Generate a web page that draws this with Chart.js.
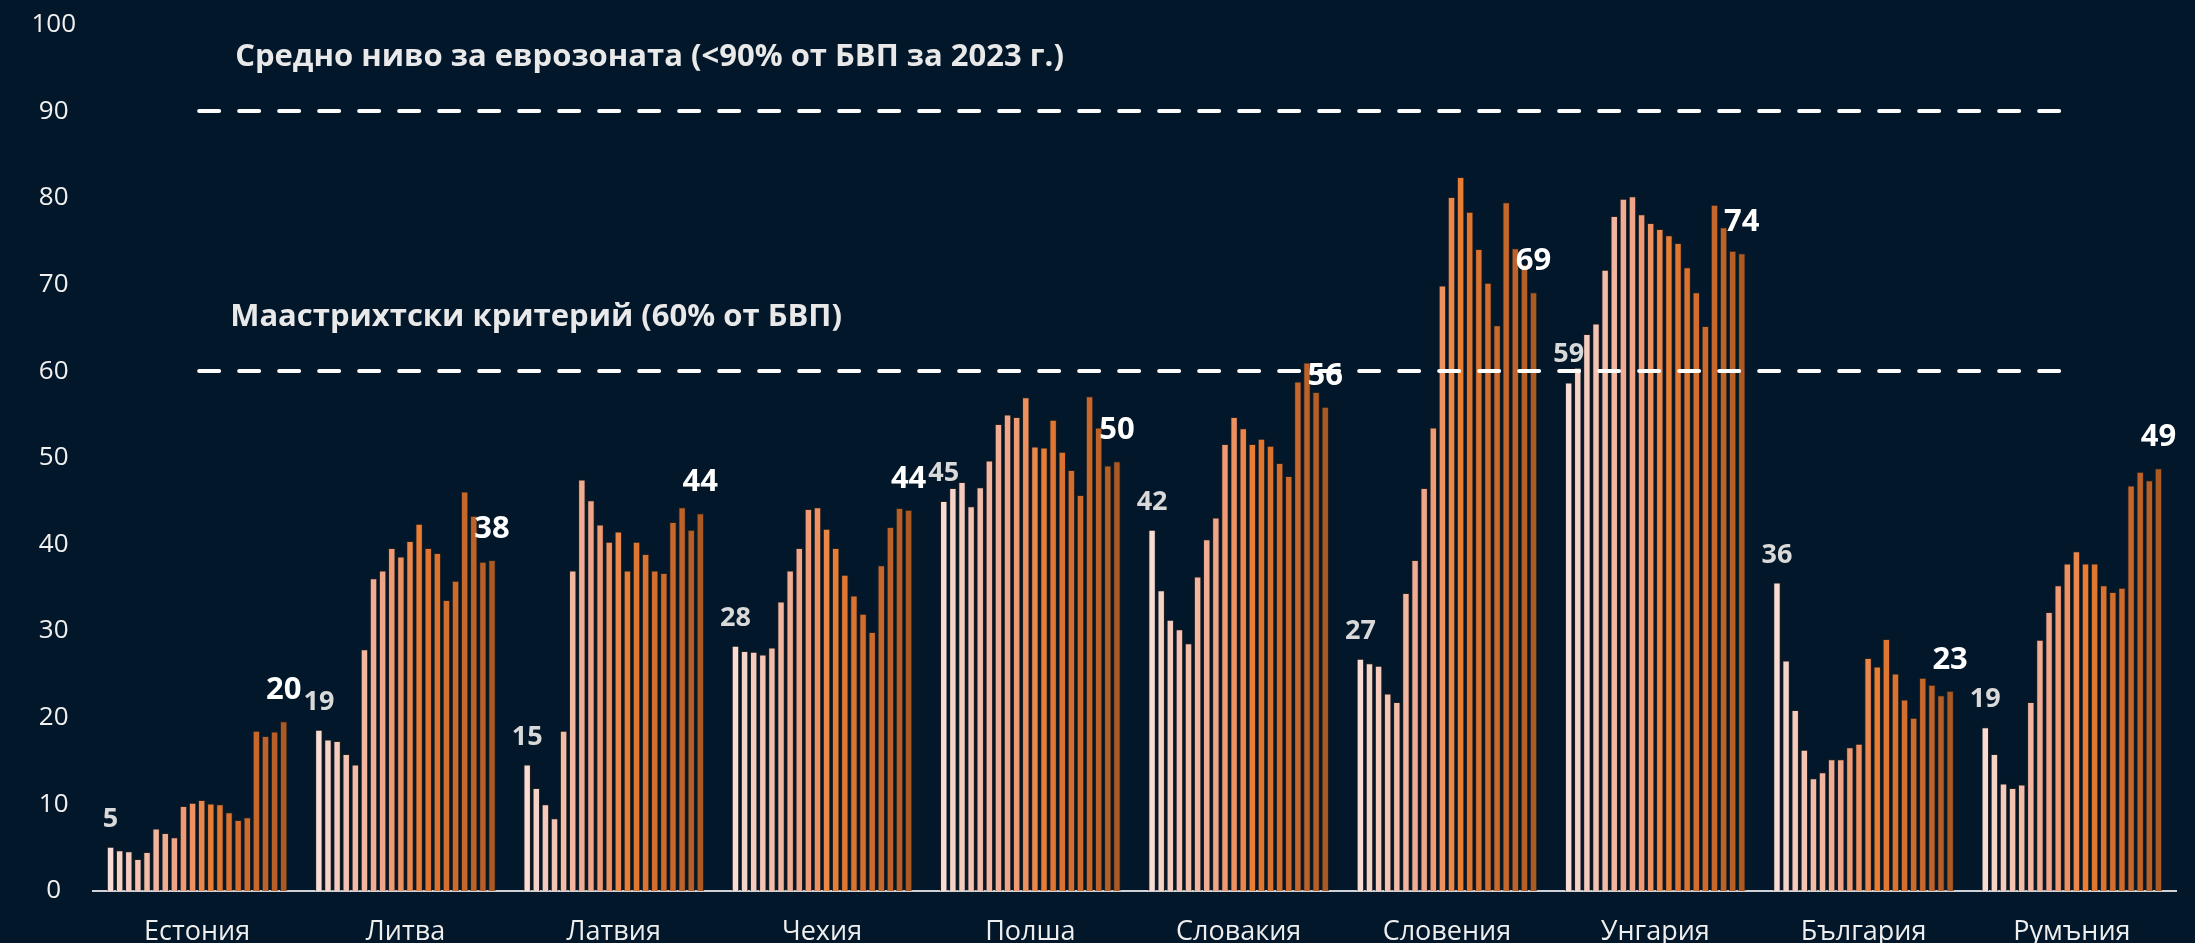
<!DOCTYPE html>
<html lang="bg">
<head>
<meta charset="utf-8">
<title>Държавен дълг</title>
<script src="https://cdn.jsdelivr.net/npm/chart.js@4.4.1/dist/chart.umd.min.js"></script>
<style>
    html, body { margin: 0; padding: 0; background: #021729; }
    #debt-container { width: 2195px; height: 943px; }
    #debt-chart { display: block; }
</style>
</head>
<body>
<div id="debt-container">
    <canvas id="debt-chart" width="2195" height="943"></canvas>
</div>
<script>
(function () {

    "use strict";

    // categories
    var countries = ['Естония', 'Литва', 'Латвия', 'Чехия', 'Полша', 'Словакия', 'Словения', 'Унгария', 'България', 'Румъния'];
    var years = ['2004', '2005', '2006', '2007', '2008', '2009', '2010', '2011', '2012', '2013',
                 '2014', '2015', '2016', '2017', '2018', '2019', '2020', '2021', '2022', '2023'];

    // debt, % of GDP, 2004..2023 per country
    var estonia   = [5.1, 4.7, 4.6, 3.7, 4.5, 7.2, 6.7, 6.2, 9.8, 10.2, 10.5, 10.1, 10.0, 9.1, 8.2, 8.5, 18.5, 17.9, 18.4, 19.6];
    var lithuania = [18.6, 17.5, 17.3, 15.8, 14.6, 27.9, 36.1, 37.0, 39.6, 38.6, 40.4, 42.4, 39.6, 39.0, 33.6, 35.8, 46.1, 43.3, 38.0, 38.2];
    var latvia    = [14.6, 11.9, 10.0, 8.4, 18.5, 37.0, 47.5, 45.1, 42.3, 40.3, 41.5, 37.0, 40.3, 38.9, 37.0, 36.7, 42.6, 44.3, 41.7, 43.6];
    var czechia   = [28.3, 27.7, 27.6, 27.3, 28.1, 33.4, 37.0, 39.6, 44.1, 44.3, 41.8, 39.6, 36.5, 34.1, 32.0, 29.9, 37.6, 42.0, 44.2, 44.0];
    var poland    = [45.0, 46.5, 47.2, 44.4, 46.6, 49.7, 53.9, 55.0, 54.7, 57.0, 51.3, 51.2, 54.4, 50.7, 48.6, 45.7, 57.1, 53.5, 49.1, 49.6];
    var slovakia  = [41.7, 34.7, 31.3, 30.2, 28.6, 36.3, 40.6, 43.1, 51.6, 54.7, 53.4, 51.6, 52.2, 51.4, 49.4, 47.9, 58.8, 61.0, 57.6, 55.9];
    var slovenia  = [26.8, 26.3, 26.0, 22.8, 21.8, 34.4, 38.2, 46.5, 53.5, 69.9, 80.1, 82.4, 78.4, 74.1, 70.2, 65.3, 79.5, 74.2, 72.3, 69.1];
    var hungary   = [58.7, 60.4, 64.3, 65.5, 71.7, 77.9, 79.9, 80.2, 78.1, 77.1, 76.4, 75.7, 74.8, 72.0, 69.1, 65.2, 79.2, 76.6, 73.9, 73.6];
    var bulgaria  = [35.6, 26.6, 20.9, 16.3, 13.0, 13.7, 15.2, 15.2, 16.6, 17.0, 26.9, 25.9, 29.1, 25.1, 22.1, 20.0, 24.6, 23.8, 22.6, 23.1];
    var romania   = [18.9, 15.8, 12.4, 11.9, 12.3, 21.8, 29.0, 32.2, 35.3, 37.8, 39.2, 37.8, 37.8, 35.3, 34.5, 35.0, 46.8, 48.4, 47.4, 48.8];

    // reference levels
    var refLevels = [90, 60];
    var refTexts = ['Средно ниво за еврозоната (<90% от БВП за 2023 г.)', 'Маастрихтски критерий (60% от БВП)'];

    var yTicks = [0, 10, 20, 30, 40, 50, 60, 70, 80, 90, 100];

    var yearColors = ['#f9ddd4', '#f6d3c7', '#f5cbbd', '#f4c3b2', '#f3bca7', '#f2b59d', '#f1ad93', '#f0a589',
                      '#ef9a72', '#ee9161', '#ec874a', '#e87e34', '#e07731', '#da7330', '#d46e2e', '#cd6b2d',
                      '#c6672b', '#bd6329', '#b65f27', '#ac5a24'];

    var FONT = "'Open Sans', 'Noto Sans', sans-serif";

    window.DebtChart = {

        init: function (config) {
            this.config = config;
            this.canvas_id = config.canvas_id;
            this.byCountry = config.byCountry;
            this.chartJSConfig = {};
            this.jsChart = {};
            return this;
        },

        buildDatasets: function () {
            var datasets = [];
            for (var y = 0; y < years.length; y++) {
                var values = [];
                for (var c = 0; c < this.byCountry.length; c++) {
                    values.push(this.byCountry[c][y]);
                }
                datasets.push({
                    label: years[y],
                    data: values,
                    backgroundColor: yearColors[y],
                    borderColor: 'rgba(45, 35, 30, 0.75)',
                    borderWidth: 1,
                    categoryPercentage: 0.875,
                    barPercentage: 0.82
                });
            }
            return datasets;
        },

        // first and last year value above each country group
        endLabels: {
            id: 'endLabels',
            afterDatasetsDraw: function (chart) {
                var ctx = chart.ctx;
                var n = chart.data.datasets.length;
                var first = chart.getDatasetMeta(0);
                var last = chart.getDatasetMeta(n - 1);
                ctx.save();
                ctx.textAlign = 'center';
                ctx.textBaseline = 'alphabetic';
                for (var i = 0; i < countries.length; i++) {
                    var a = first.data[i], b = last.data[i];
                    ctx.font = 'bold 27px ' + FONT;
                    ctx.fillStyle = '#d9d9d9';
                    ctx.fillText(Math.round(chart.data.datasets[0].data[i]), a.x, a.y - 20);
                    ctx.font = 'bold 31px ' + FONT;
                    ctx.fillStyle = '#ffffff';
                    ctx.fillText(Math.round(chart.data.datasets[n - 1].data[i]), b.x, b.y - 22);
                }
                ctx.restore();
            }
        },

        refLines: {
            id: 'refLines',
            afterDatasetsDraw: function (chart) {
                var ctx = chart.ctx;
                var xs = chart.scales.x, ys = chart.scales.y;
                var x0 = xs.getPixelForValue(0), x1 = xs.getPixelForValue(countries.length - 1);
                var textShift = [38, 33];
                ctx.save();
                for (var i = 0; i < refLevels.length; i++) {
                    var py = Math.round(ys.getPixelForValue(refLevels[i]));
                    ctx.strokeStyle = '#ffffff';
                    ctx.lineWidth = 4;
                    ctx.lineCap = 'round';
                    ctx.setLineDash([20, 20]);
                    ctx.beginPath();
                    ctx.moveTo(x0 + 2, py);
                    ctx.lineTo(x1, py);
                    ctx.stroke();

                    ctx.setLineDash([]);
                    ctx.font = 'bold 31px ' + FONT;
                    ctx.fillStyle = '#e9e9e9';
                    ctx.textAlign = 'left';
                    ctx.textBaseline = 'middle';
                    ctx.fillText(refTexts[i], x0 + textShift[i], py - 54);
                }
                ctx.restore();
            }
        },

        drawChart: function () {
            this.chartJSConfig.type = 'bar';
            this.chartJSConfig.data = {
                labels: countries,
                datasets: this.buildDatasets()
            };
            this.chartJSConfig.options = {
                responsive: false,
                animation: false,
                devicePixelRatio: 1,
                layout: { padding: { top: -20, right: 19, left: 0, bottom: 0 } },
                plugins: {
                    legend: { display: false },
                    tooltip: { enabled: false }
                },
                scales: {
                    x: {
                        grid: { display: false },
                        border: { display: true, color: '#cfd3d8', width: 2 },
                        ticks: { color: '#eeeeee', font: { family: FONT, size: 27 }, padding: 17 },
                        afterFit: function (s) { s.height = 52; }
                    },
                    y: {
                        min: 0,
                        max: 100,
                        grid: { display: false },
                        border: { display: false },
                        afterBuildTicks: function (s) {
                            s.ticks = yTicks.map(function (v) { return { value: v }; });
                        },
                        ticks: { color: '#f0f0f0', font: { family: FONT, size: 26 }, padding: 9, crossAlign: 'center' },
                        afterFit: function (s) { s.width = 93; }
                    }
                }
            };
            this.chartJSConfig.plugins = [this.endLabels, this.refLines];

            var ctx = document.getElementById(this.canvas_id).getContext('2d');
            this.jsChart = new Chart(ctx, this.chartJSConfig);
        }
    };

    document.addEventListener('DOMContentLoaded', function () {
        var chart = Object.create(window.DebtChart);
        chart.init({
            canvas_id: 'debt-chart',
            byCountry: [estonia, lithuania, latvia, czechia, poland, slovakia, slovenia, hungary, bulgaria, romania]
        });
        chart.drawChart();
    });

})();
</script>
</body>
</html>
